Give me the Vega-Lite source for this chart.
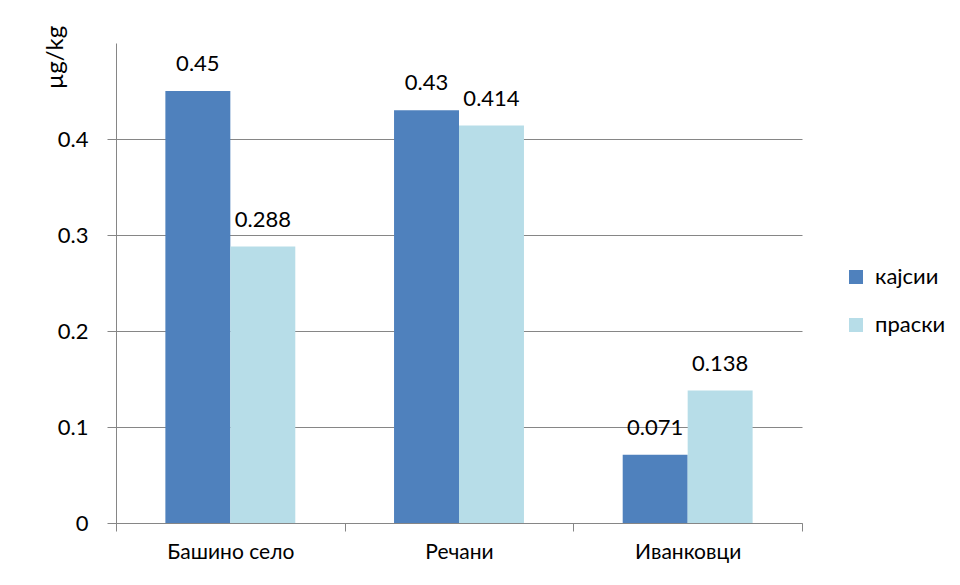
{
  "$schema": "https://vega.github.io/schema/vega-lite/v6.json",
  "width": 686,
  "height": 480,
  "autosize": {"type": "none"},
  "padding": {"left": 116, "top": 43, "right": 158, "bottom": 62},
  "background": "white",
  "config": {
    "font": "Lato",
    "view": {"stroke": null},
    "axis": {"labelFont": "Lato", "titleFont": "Lato", "labelColor": "black", "titleColor": "black"}
  },
  "data": {
    "values": [
      {"site": "Башино село", "fruit": "кајсии", "value": 0.45},
      {"site": "Башино село", "fruit": "праски", "value": 0.288},
      {"site": "Речани", "fruit": "кајсии", "value": 0.43},
      {"site": "Речани", "fruit": "праски", "value": 0.414},
      {"site": "Иванковци", "fruit": "кајсии", "value": 0.071},
      {"site": "Иванковци", "fruit": "праски", "value": 0.138}
    ]
  },
  "encoding": {
    "x": {
      "field": "site", "type": "nominal", "sort": null,
      "scale": {"paddingInner": 0, "paddingOuter": 0},
      "axis": {
        "title": null, "labelAngle": 0, "labelFontSize": 21, "labelPadding": 10,
        "tickBand": "extent", "tickSize": 8, "tickColor": "#868686",
        "domainColor": "#868686", "grid": false
      }
    },
    "xOffset": {
      "field": "fruit", "type": "nominal", "sort": ["кајсии", "праски"],
      "scale": {"paddingInner": 0, "paddingOuter": 0.76}
    },
    "y": {
      "field": "value", "type": "quantitative",
      "scale": {"domain": [0, 0.5], "nice": false},
      "axis": {
        "title": "µg/kg", "titleFontSize": 24, "titleFontWeight": "normal",
        "titleAngle": -90, "titleX": -61, "titleY": 14, "titleAlign": "center", "titleBaseline": "middle",
        "values": [0, 0.1, 0.2, 0.3, 0.4], "labelFontSize": 22, "labelPadding": 19,
        "tickSize": 9, "tickColor": "#868686", "domainColor": "#868686",
        "grid": true, "gridColor": "#868686", "gridOpacity": 1,
        "labelExpr": "datum.value === 0 ? '0' : format(datum.value, '.1f')"
      }
    }
  },
  "layer": [
    {
      "mark": {"type": "bar"},
      "encoding": {
        "color": {
          "field": "fruit", "type": "nominal", "sort": ["кајсии", "праски"],
          "scale": {"domain": ["кајсии", "праски"], "range": ["#4F81BD", "#B7DDE8"]},
          "legend": {
            "title": null, "orient": "none", "legendX": 729, "legendY": 223,
            "symbolType": "square", "symbolSize": 196, "symbolStrokeWidth": 0,
            "labelFontSize": 22, "labelOffset": 8, "rowPadding": 26, "padding": 0,
            "labelColor": "black", "labelFont": "Lato"
          }
        }
      }
    },
    {
      "mark": {"type": "text", "fontSize": 22, "baseline": "alphabetic", "dy": -20, "color": "black"},
      "encoding": {
        "text": {"field": "value", "type": "quantitative"}
      }
    }
  ]
}
